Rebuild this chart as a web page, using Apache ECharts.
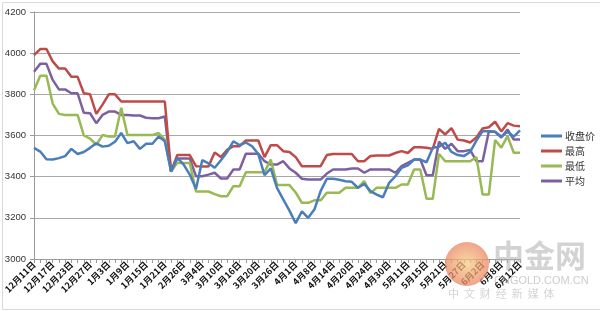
<!DOCTYPE html>
<html>
<head>
<meta charset="utf-8">
<script src="https://cdn.jsdelivr.net/npm/echarts@6/dist/echarts.min.js"></script>
<style>
html,body{margin:0;padding:0;background:#fff;}
#chart{width:600px;height:311px;}
</style>
</head>
<body>
<div id="chart"></div>
<script>
// Tick labels (every 3rd trading day shown on the axis)
var tickLabels = ['12月11日','12月17日','12月23日','12月27日','1月3日','1月9日','1月15日','1月21日','2月26日','3月4日','3月10日','3月16日','3月20日','3月26日','4月1日','4月8日','4月14日','4月20日','4月24日','4月30日','5月11日','5月15日','5月21日','5月27日','6月2日','6月8日','6月12日'];
var seriesNames = ['收盘价','最高','最低','平均'];

var closeVals = [3540,3522,3485,3483,3490,3500,3535,3510,3520,3540,
  3562,3546,3550,3570,3612,3563,3572,3535,3560,3560,
  3595,3572,3425,3491,3460,3410,3340,3480,3465,3443,
  3480,3520,3572,3553,3566,3548,3510,3407,3440,3346,
  3290,3235,3174,3231,3200,3240,3330,3390,3390,3385,
  3378,3375,3346,3365,3330,3313,3300,3370,3402,3443,
  3455,3483,3483,3470,3540,3545,3565,3520,3505,3500,
  3520,3575,3621,3621,3618,3595,3618,3595,3625];
var highVals = [3990,4020,4020,3960,3925,3925,3885,3885,3805,3800,
  3705,3750,3800,3800,3765,3765,3765,3765,3765,3765,
  3765,3765,3425,3505,3505,3505,3451,3450,3450,3517,
  3495,3530,3548,3548,3576,3576,3576,3495,3553,3553,
  3524,3520,3495,3451,3451,3451,3451,3505,3510,3510,
  3510,3510,3475,3475,3500,3503,3503,3503,3515,3524,
  3515,3543,3543,3540,3535,3632,3605,3636,3580,3576,
  3566,3590,3634,3640,3667,3620,3660,3648,3645];
var lowVals = [3820,3890,3890,3755,3705,3700,3700,3700,3600,3585,
  3555,3602,3595,3595,3735,3602,3602,3602,3602,3602,
  3612,3580,3425,3467,3467,3467,3328,3328,3328,3315,
  3305,3305,3354,3354,3422,3422,3422,3422,3483,3360,
  3359,3359,3323,3273,3273,3285,3285,3322,3322,3322,
  3346,3346,3346,3378,3320,3346,3346,3346,3346,3362,
  3362,3435,3435,3293,3293,3510,3475,3475,3475,3475,
  3475,3495,3313,3313,3578,3541,3597,3516,3516];
var avgVals = [3910,3948,3948,3870,3824,3824,3805,3805,3710,3708,
  3660,3700,3716,3716,3700,3700,3697,3697,3686,3684,
  3684,3692,3425,3488,3488,3488,3402,3402,3410,3419,
  3391,3391,3435,3435,3511,3511,3511,3475,3459,3459,
  3475,3440,3419,3390,3386,3386,3386,3415,3435,3435,
  3435,3440,3440,3419,3435,3435,3435,3435,3419,3451,
  3467,3483,3483,3407,3407,3570,3535,3560,3524,3524,
  3530,3475,3475,3620,3618,3590,3629,3580,3580];

// category list: labelled day every 3rd point
var categories = [];
for (var i = 0; i < closeVals.length; i++) {
  categories.push(i % 3 === 0 ? tickLabels[i / 3] : '');
}

var colors = ['#4A7EBB','#BE4B48','#98B954','#7D60A0'];
var valueSets = [closeVals, highVals, lowVals, avgVals];

var chart = echarts.init(document.getElementById('chart'), null, {renderer:'canvas'});
var option = {
  backgroundColor: '#ffffff',
  animation: false,
  color: colors,
  grid: {left: 34, right: 80, top: 12, bottom: 52},
  legend: {
    orient: 'vertical',
    left: 536,
    top: 125,
    icon: 'rect',
    itemWidth: 21,
    itemHeight: 3,
    itemGap: 3,
    textStyle: {fontSize: 10, color: '#333', fontFamily: 'Noto Sans CJK SC', lineHeight: 12, padding: [0,0,0,-2]},
    data: seriesNames
  },
  xAxis: {
    type: 'category',
    boundaryGap: false,
    data: categories,
    axisLine: {lineStyle: {color: '#9a9a9a', width: 1}},
    axisTick: {show: true, interval: 0, length: 4, lineStyle: {color: '#9a9a9a'}},
    axisLabel: {
      interval: 2,
      rotate: 45,
      margin: 4,
      fontSize: 9,
      fontWeight: 'bold',
      color: '#111',
      fontFamily: 'Noto Sans CJK SC'
    },
    splitLine: {show: false}
  },
  yAxis: {
    type: 'value',
    min: 3000,
    max: 4200,
    interval: 200,
    axisLine: {show: true, lineStyle: {color: '#9a9a9a'}},
    axisTick: {show: true, length: 4, lineStyle: {color: '#9a9a9a'}},
    axisLabel: {fontSize: 9.5, color: '#333', margin: 8, fontFamily: 'Liberation Sans',
      formatter: function (v) { return String(v); }},
    splitLine: {lineStyle: {color: '#a8a8a8', width: 1}}
  },
  graphic: [
    {type: 'rect', left: 0, top: 0, shape: {width: 599, height: 307}, style: {fill: 'none', stroke: '#d9d9d9', lineWidth: 1}, silent: true, z: -1},
    {type: 'circle', shape: {cx: 467, cy: 264, r: 22}, style: {fill: new echarts.graphic.RadialGradient(0.5,0.5,0.6,[{offset:0,color:'#f6cf86'},{offset:1,color:'#e8765c'}]), opacity: 0.75}, silent: true, z: 100},
    {type: 'text', left: 493, top: 240, style: {text: '中金网', font: 'bold 31px "Noto Sans CJK SC"', fill: 'rgba(175,175,175,0.55)'}, silent: true, z: 100},
    {type: 'text', left: 494, top: 275, style: {text: 'CNGOLD.COM.CN', font: '11px "Liberation Sans"', fill: 'rgba(170,170,170,0.6)'}, silent: true, z: 100},
    {type: 'text', left: 448, top: 288, style: {text: '中  文  财  经  新  媒  体', font: '11px "Noto Sans CJK SC"', fill: 'rgba(170,170,170,0.5)'}, silent: true, z: 100}
  ],
  series: seriesNames.map(function (n, k) {
    return {
      name: n,
      type: 'line',
      data: valueSets[k],
      symbol: 'none',
      lineStyle: {width: 2.5, color: colors[k]},
      z: 10 - k
    };
  })
};
chart.setOption(option);
</script>
</body>
</html>
